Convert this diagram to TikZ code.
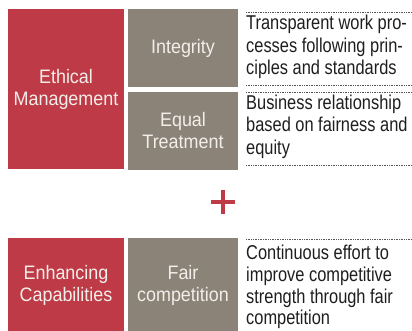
\documentclass[tikz,border=0pt]{standalone}
\usepackage{fontspec}
\setmainfont{Liberation Sans}[FakeStretch=0.82]
\newfontfamily\boxfont{Liberation Sans}[FakeStretch=0.92]
\begin{document}
\begin{tikzpicture}[x=1pt,y=-1pt,
  redbox/.style={fill=ebred, inner sep=0pt, text=boxtext, align=center, font=\boxfont\fontsize{19.5}{22}\selectfont},
  graybox/.style={fill=ebgray, inner sep=0pt, text=boxtext, align=center, font=\boxfont\fontsize{19.5}{22}\selectfont},
  desc/.style={inner sep=0pt, anchor=north west, align=left, text=desctext, font=\fontsize{20}{22.6}\selectfont},
  descb/.style={desc, font=\fontsize{20}{21.7}\selectfont},
  dotline/.style={draw=dotgray, line width=0.8pt, dash pattern=on 0.8pt off 0.9pt},
  plusline/.style={draw=ebred, line width=3.2pt}
]
\definecolor{ebred}{HTML}{BE3A46}
\definecolor{ebgray}{HTML}{8C8378}
\definecolor{boxtext}{HTML}{F2EEEA}
\definecolor{desctext}{HTML}{1E1E1E}
\definecolor{dotgray}{HTML}{555555}
\useasboundingbox (0,0) rectangle (412,331);

% top group
\node[redbox, minimum width=116pt, minimum height=160pt] (em) at (66,89) {Ethical\\Management};
\node[graybox, minimum width=110pt, minimum height=78pt] (int) at (183,48) {Integrity};
\node[graybox, minimum width=110pt, minimum height=78pt] (eq) at (183,131) {Equal\\Treatment};

\coordinate (d1a) at (246,12); \coordinate (d1b) at (411,12);
\coordinate (d2a) at (246,85); \coordinate (d2b) at (411,85);
\coordinate (d3a) at (246,92); \coordinate (d3b) at (411,92);
\coordinate (d4a) at (246,165); \coordinate (d4b) at (411,165);
\draw[dotline] (d1a) -- (d1b);
\draw[dotline] (d2a) -- (d2b);
\draw[dotline] (d3a) -- (d3b);
\draw[dotline] (d4a) -- (d4b);

\node[desc] (t1) at (246,15) {Transparent work pro-\\cesses following prin-\\ciples and standards};
\node[desc] (t2) at (246,94.5) {Business relationship\\based on fairness and\\equity};

% plus
\coordinate (pc) at (223,202);
\draw[plusline] ([xshift=-12pt]pc) -- ([xshift=12pt]pc);
\draw[plusline] ([yshift=-12pt]pc) -- ([yshift=12pt]pc);

% bottom group
\node[redbox, minimum width=116pt, minimum height=94pt] (ec) at (66,285) {Enhancing\\Capabilities};
\node[graybox, minimum width=110pt, minimum height=94pt] (fc) at (183,285) {Fair\\competition};

\coordinate (d5a) at (246,239); \coordinate (d5b) at (411,239);
\draw[dotline] (d5a) -- (d5b);
\node[descb] (t3) at (246,245) {Continuous effort to\\improve competitive\\strength through fair\\competition};
\end{tikzpicture}
\end{document}
